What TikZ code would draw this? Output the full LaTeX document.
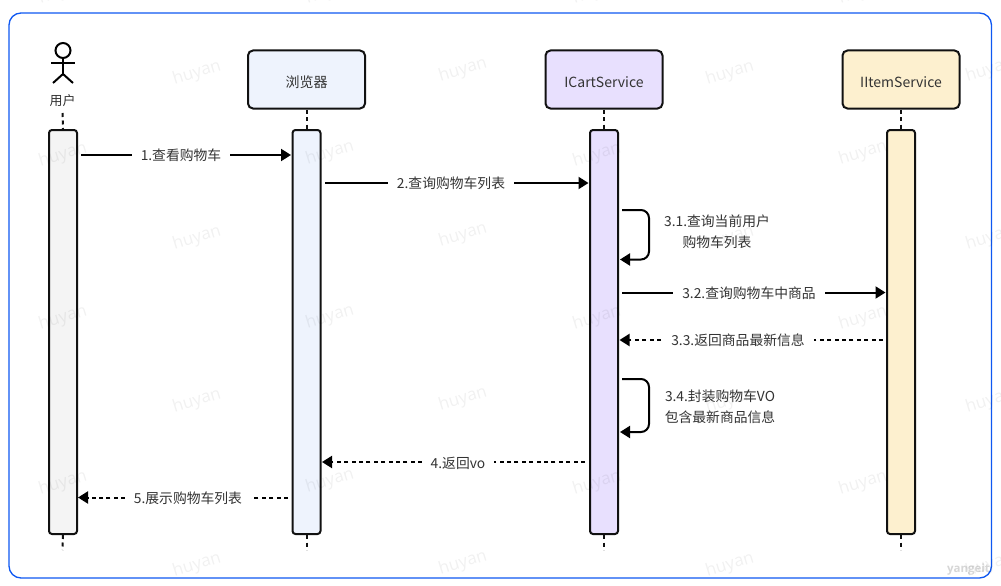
\documentclass[tikz,border=0pt]{standalone}
\usepackage{fontspec}
\setmainfont{Noto Sans CJK SC}
\newfontfamily\wmfont{Open Sans}
\usetikzlibrary{arrows.meta}
\definecolor{frameblue}{HTML}{0F58F2}
\definecolor{inkc}{HTML}{111111}
\definecolor{textc}{HTML}{333333}
\definecolor{userfill}{HTML}{F4F4F4}
\definecolor{browserfill}{HTML}{EEF3FD}
\definecolor{cartfill}{HTML}{E8E0FE}
\definecolor{itemfill}{HTML}{FDF0CF}
\tikzset{
  x=1pt,y=-1pt,
  frame/.style={draw=frameblue,line width=1.3pt,rounded corners=12pt},
  headbox/.style={draw=inkc,line width=2pt,rounded corners=5pt,minimum width=117pt,minimum height=58pt,inner sep=0pt,text=textc,font=\fontsize{14}{17}\selectfont},
  actbox/.style={draw=inkc,line width=2pt,rounded corners=3pt,minimum width=28pt,minimum height=404pt,inner sep=0pt},
  stick/.style={draw=black,line width=2pt},
  life/.style={draw=inkc,line width=2pt,dash pattern=on 4pt off 3.5pt},
  msg/.style={draw=black,line width=2pt,-{Triangle[length=10pt,width=12pt]}},
  ret/.style={msg,dash pattern=on 4pt off 3.4pt},
  msglabel/.style={fill=white,text=textc,inner xsep=9pt,inner ysep=3pt,font=\fontsize{13.8}{17}\selectfont},
  notelabel/.style={text=textc,align=center,inner sep=0pt,font=\fontsize{13.8}{20.5}\selectfont},
  wm/.style={text=black,text opacity=0.055,rotate=17,inner sep=0pt,font=\wmfont\fontsize{17}{20}\selectfont},
}
\begin{document}
\begin{tikzpicture}
\useasboundingbox (0,0) rectangle (1001,586);
\fill[white] (0,0) rectangle (1001,586);
\draw[frame] (9,13) rectangle (991.5,578);

% actor
\draw[stick] (63,50.5) circle[radius=7.5];
\draw[stick] (63,58) -- (63,74);
\draw[stick] (51,63.5) -- (75,63.5);
\draw[stick] (53,83) -- (63,74) -- (73,83);
\node[text=textc,inner sep=0pt,font=\fontsize{13}{15}\selectfont] (userlabel) at (62.5,101) {用户};

% heads
\node[headbox,fill=browserfill] (browser) at (306.5,79.5) {\rule{0pt}{17pt}浏览器};
\node[headbox,fill=cartfill] (cart) at (604,79.5) {\rule{0pt}{17pt}ICartService};
\node[headbox,fill=itemfill] (item) at (901,79.5) {\rule{0pt}{17pt}IItemService};

% activation bars
\node[actbox,fill=userfill] (auser) at (63,332) {};
\node[actbox,fill=browserfill] (abrowser) at (306.5,332) {};
\node[actbox,fill=cartfill] (acart) at (604,332) {};
\node[actbox,fill=itemfill] (aitem) at (901,332) {};

% lifeline stubs
\coordinate (utop) at (62.5,113);
\coordinate (ubot) at (62.5,550);
\coordinate (bbot) at (306.5,550);
\coordinate (cbot) at (604,550);
\coordinate (ibot) at (901,550);
\draw[life] (utop) -- (auser.north);
\draw[life] (auser.south) -- (ubot);
\draw[life] (browser.south) -- (abrowser.north);
\draw[life] (abrowser.south) -- (bbot);
\draw[life] (cart.south) -- (acart.north);
\draw[life] (acart.south) -- (cbot);
\draw[life] (item.south) -- (aitem.north);
\draw[life] (aitem.south) -- (ibot);

% message end points
\coordinate (m1a) at (81,155);     \coordinate (m1b) at (291,155);
\coordinate (m2a) at (325,183);    \coordinate (m2b) at (588.5,183);
\coordinate (s1a) at (622,210);    \coordinate (s1c) at (649,210);
\coordinate (s1d) at (649,259.5);  \coordinate (s1b) at (620,259.5);
\coordinate (m3a) at (622,292.5);  \coordinate (m3b) at (885.5,292.5);
\coordinate (m4a) at (883,340);    \coordinate (m4b) at (619.5,340);
\coordinate (s2a) at (622,379);    \coordinate (s2c) at (649,379);
\coordinate (s2d) at (649,432);    \coordinate (s2b) at (620,432);
\coordinate (m5a) at (585,462);    \coordinate (m5b) at (322,462);
\coordinate (m6a) at (288,497.5);  \coordinate (m6b) at (78,497.5);

\draw[msg] (m1a) -- (m1b);
\draw[msg] (m2a) -- (m2b);
\draw[msg,rounded corners=8pt] (s1a) -- (s1c) -- (s1d) -- (s1b);
\draw[msg] (m3a) -- (m3b);
\draw[ret] (m4a) -- (m4b);
\draw[msg,rounded corners=8pt] (s2a) -- (s2c) -- (s2d) -- (s2b);
\draw[ret] (m5a) -- (m5b);
\draw[ret] (m6a) -- (m6b);

% labels
\node[msglabel] (l1) at (181,155.5) {1.查看购物车};
\node[msglabel] (l2) at (451,183.5) {2.查询购物车列表};
\node[notelabel] (l31) at (717,232) {3.1.查询当前用户\\购物车列表};
\node[msglabel] (l32) at (749,293.5) {3.2.查询购物车中商品};
\node[msglabel] (l33) at (738,340.5) {3.3.返回商品最新信息};
\node[notelabel] (l34) at (720,406.5) {3.4.封装购物车VO\\包含最新商品信息};
\node[msglabel] (l4) at (458,463) {4.返回vo};
\node[msglabel] (l5) at (188,498) {5.展示购物车列表};

% watermarks
\foreach \wx/\wy [count=\wi] in {
  63/-8,330/-8,597/-8,863/-8,
  197/73,463/70,730/73,990/70,
  63/155,330/153,597/155,863/153,
  197/238,463/235,730/238,990/238,
  63/318,330/317,597/318,863/318,
  197/401,463/399,730/401,990/401,
  63/483,330/481,597/483,863/483,
  197/565,463/563,730/565,990/565}{
  \node[wm] (wm\wi) at (\wx,\wy) {huyan};
}
\node[text=black,text opacity=0.16,inner sep=0pt,font=\wmfont\bfseries\fontsize{11.5}{14}\selectfont] (stamp) at (968.5,570) {yangeit};
\end{tikzpicture}
\end{document}
